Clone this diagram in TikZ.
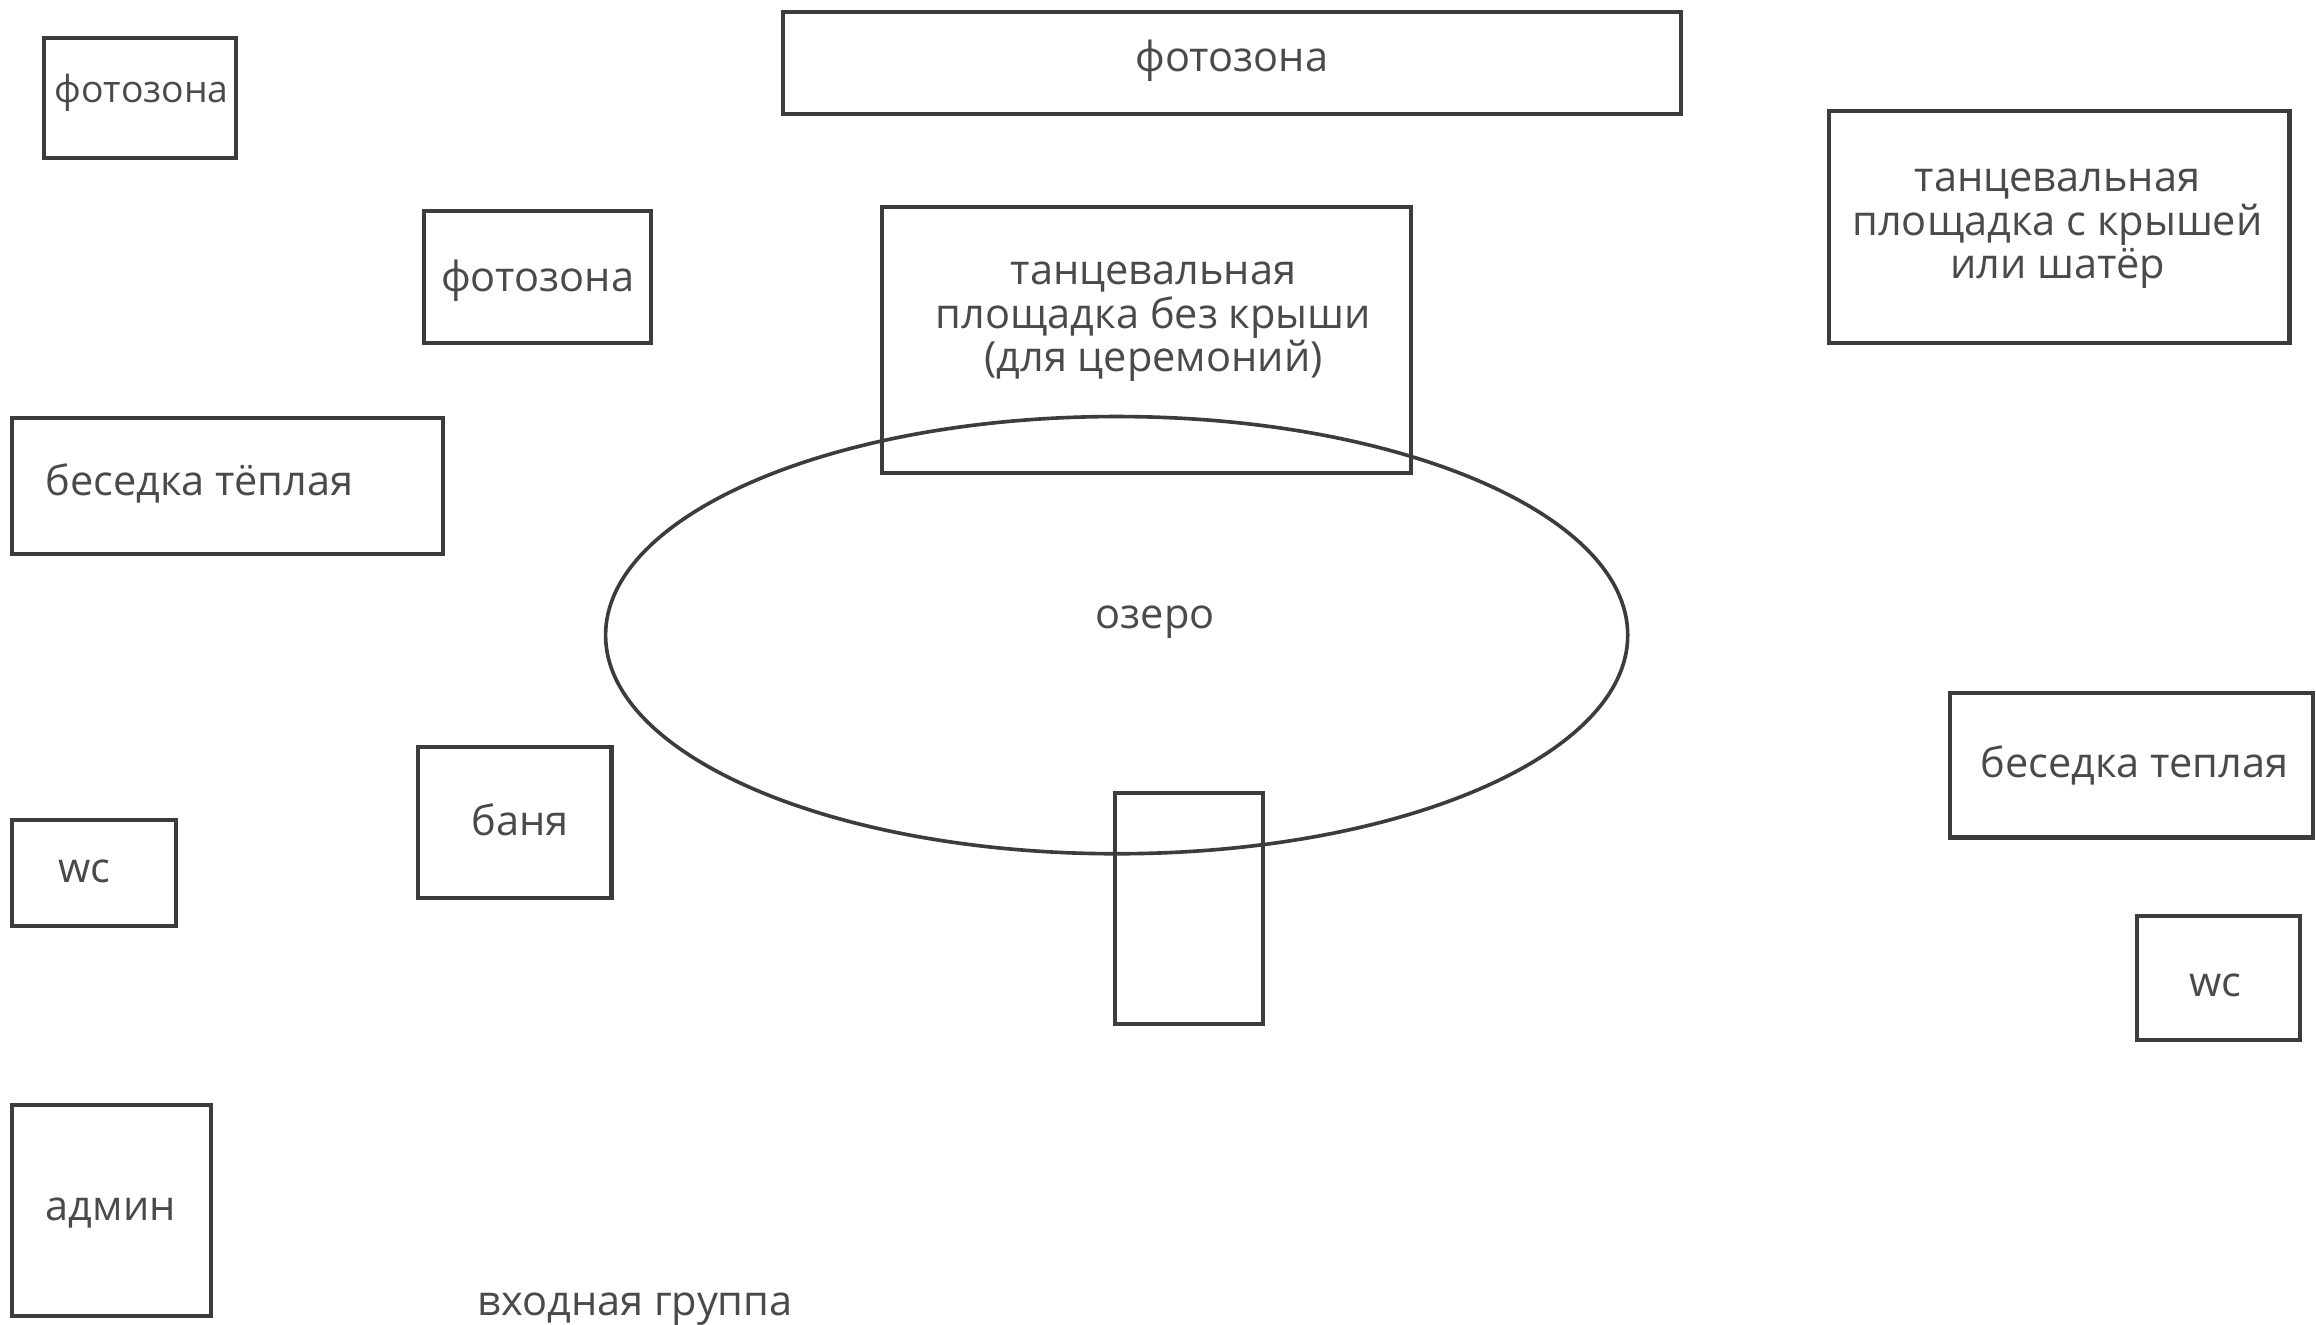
\documentclass[tikz,border=0pt]{standalone}
\usepackage{fontspec}
\setmainfont{Open Sans}
\usetikzlibrary{positioning}

\definecolor{edgegray}{HTML}{3C3C3C}
\definecolor{textgray}{HTML}{4A4A4A}

\begin{document}
\begin{tikzpicture}[x=0.02cm, y=-0.02cm,
    zone/.style={draw=edgegray, line width=1.6pt},
    lbl/.style={text=textgray, font=\fontsize{16}{16.8}\selectfont, align=center, inner sep=0pt}]
    % Page frame
    \useasboundingbox (0,0) rectangle (1568,897);

    % Draw the lake
    \draw[zone, line width=1.4pt] (756,430) ellipse [x radius=346, y radius=148];
    \node[lbl] (lake) at (782,421) {озеро};

    % Draw the zones
    \draw[zone] (30,26) rectangle (160,107);
    \draw[zone] (530,8) rectangle (1138,77);
    \draw[zone] (1238,75) rectangle (1550,232);
    \draw[zone] (287,143) rectangle (441,232);
    \draw[zone] (597,140) rectangle (955,320);
    \draw[zone] (8,283) rectangle (300,375);
    \draw[zone] (1320,469) rectangle (1566,567);
    \draw[zone] (283,506) rectangle (414,608);
    \draw[zone] (8,555) rectangle (119,627);
    \draw[zone] (755,537) rectangle (855,693);
    \draw[zone] (1447,620) rectangle (1557,704);
    \draw[zone] (8,748) rectangle (143,891);

    % Labels of the zones
    \node[lbl, font=\fontsize{14.4}{15}\selectfont] (photoA) at (96,63) {фотозона};
    \node[lbl] (photoTop) at (834,41) {фотозона};
    \node[lbl] (danceRoof) at (1393,155) {танцевальная\\площадка с крышей\\или шатёр};
    \node[lbl] (photoB) at (364,190) {фотозона};
    \node[lbl] (danceOpen) at (781,218) {танцевальная\\площадка без крыши\\(для церемоний)};
    \node[lbl] (gazeboA) at (135,327) {беседка тёплая};
    \node[lbl] (gazeboB) at (1445,518) {беседка теплая};
    \node[lbl] (banya) at (352,555) {баня};
    \node[lbl] (wcA) at (57,590) {wc};
    \node[lbl] (wcB) at (1500,667) {wc};
    \node[lbl] (admin) at (75,821) {админ};
    \node[lbl] (entrance) at (430,886) {входная группа};
\end{tikzpicture}
\end{document}
